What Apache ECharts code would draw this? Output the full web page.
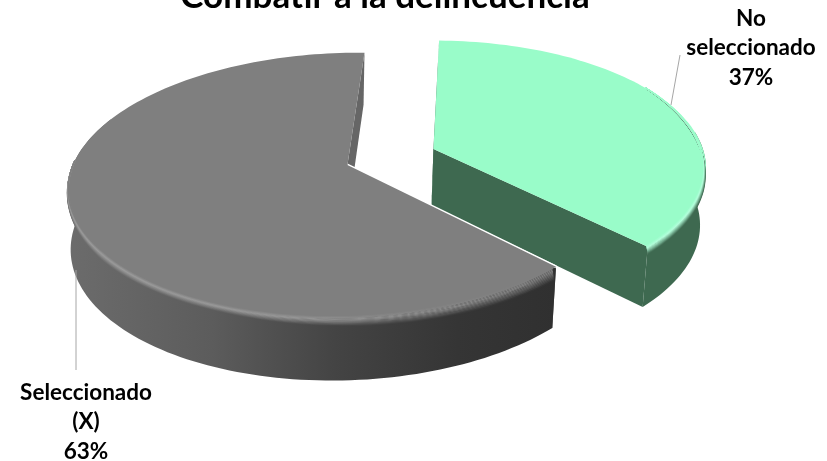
<!DOCTYPE html>
<html><head><meta charset="utf-8">
<style>html,body{margin:0;padding:0;background:#fff}#c{width:827px;height:461px}</style>
<script src="https://cdn.jsdelivr.net/npm/echarts@6/dist/echarts.min.js"></script>
</head><body><div id="c"></div>
<script>
const titleText = 'Combatir a la delincuencia';
const categories = ['No seleccionado', 'Seleccionado (X)'];
const labelLines = [['No', 'seleccionado'], ['Seleccionado', '(X)']];
const values = [37, 63];

// view of the tilted, exploded pie
const view = {vx: 433, vy: 157, R: 272, K: 127, H: 58, p: 0.15, q: 0.023, qx: 0.0145, qxAt: 300, startDeg: 1.4, explode: 0.169, cx: -0.155};
const looks = [
  {top: '#99fcc9', face: '#3e6950', glint: [[0, '#b4ffdc'], [1, '#b4ffdc']], side: [[0, '#3e6950'], [1, '#3e6950']], gx: [433, 707],
   rim: [58, 0.13, 0]},
  {top: '#7f7f7f', face: '#666666', glint: [[0, '#9c9c9c'], [0.5, '#979797'], [0.85, '#858585'], [1, '#7f7f7f']],
   side: [[0, '#6c6c6c'], [0.3, '#5c5c5c'], [0.55, '#444444'], [0.8, '#353535'], [1, '#303030']], gx: [65, 555],
   rim: [272, 0.09, 0.13]}
];
const labelPos = [[751, 48], [86, 422]];
const leaders = [[[680, 55], [671, 105]], [[76, 270], [76, 370]]];

const total = values.reduce((a, b) => a + b, 0);
const rad = d => d * Math.PI / 180;
function sliceAngles(i) {
  let a = view.startDeg;
  for (let k = 0; k < i; k++) a += values[k] / total * 360;
  return [a, a + values[i] / total * 360];
}
function project(wx, wy, z) {
  const s0 = 1 / (1 - view.p * wy);
  const s = 1 / (1 - view.p * wy + view.q * z);
  const x0 = view.vx + view.R * wx * s0;
  return [x0 - (x0 - view.qxAt) * view.qx * z, view.vy + view.K * wy * s + view.H * z * s];
}
const toRgb = h => [16, 8, 0].map(sh => (parseInt(h.slice(1), 16) >> sh) & 255);
const toHex = c => '#' + c.map(v => Math.round(v).toString(16).padStart(2, '0')).join('');
function hexMix(a, b, t) {
  const pa = toRgb(a), pb = toRgb(b);
  return toHex(pa.map((v, i) => v * (1 - t) + pb[i] * t));
}
function sample(stops, t) {
  for (let i = 1; i < stops.length; i++) {
    if (t <= stops[i][0]) {
      return hexMix(stops[i - 1][1], stops[i][1], (t - stops[i - 1][0]) / (stops[i][0] - stops[i - 1][0]));
    }
  }
  return stops[stops.length - 1][1];
}
function renderSlice(params, api) {
  const i = params.dataIndex;
  const look = looks[i];
  const [a0, a1] = sliceAngles(i);
  const mid = rad((a0 + a1) / 2);
  const ox = view.cx + Math.sin(mid) * view.explode;
  const oy = -Math.cos(mid) * view.explode;
  const P = (deg, r, z) => project(ox + r * Math.sin(rad(deg)), oy - r * Math.cos(rad(deg)), z);
  const arc = (from, to, r, z) => {
    const pts = [], n = Math.max(2, Math.ceil(Math.abs(to - from) / 1.5));
    for (let k = 0; k <= n; k++) pts.push(P(from + (to - from) * k / n, r, z));
    return pts;
  };
  const sideFill = {type: 'linear', x: look.gx[0], y: 0, x2: look.gx[1], y2: 0, global: true,
    colorStops: look.side.map(s => ({offset: s[0], color: s[1]}))};
  const kids = [];
  const apex = z => project(ox, oy, z);
  // cut faces
  [a0, a1].forEach(a => kids.push({type: 'polygon', shape: {points: [apex(0), P(a, 1, 0), P(a, 1, 1), apex(1)]},
    style: {fill: look.face}}));
  // outer wall, front part only
  const f0 = Math.max(a0, 82), f1 = Math.min(a1, 292);
  kids.push({type: 'polygon', shape: {points: arc(f0, f1, 1, 0).concat(arc(f1, f0, 1, 1))}, style: {fill: sideFill}});
  if (i === 1) {
    kids.push({type: 'polyline', shape: {points: [apex(0), P(a0, 1, 0)]}, style: {stroke: '#ffffff', lineWidth: 3, fill: null}});
  }
  // top
  kids.push({type: 'polygon', shape: {points: [apex(0)].concat(arc(a0, a1, 1, 0))}, style: {fill: look.top}});
  // rounded rim: outer layers first so each inner one sits on top; it narrows to nothing at its far end
  const n = 12;
  const b0 = Math.max(a0 + 0.3, i === 0 ? look.rim[0] : 0), b1 = Math.min(a1 - 0.3, i === 0 ? 999 : look.rim[0]);
  for (let k = n; k >= 0; k--) {
    const t = k / n;
    const pts = [];
    const steps = Math.ceil((b1 - b0) / 1.5);
    for (let j = 0; j <= steps; j++) {
      const a = b0 + (b1 - b0) * j / steps;
      const far = i === 0 ? (a - b0) / 40 : (b1 - a) / 40;
      const w = Math.min(1, far);
      const zmax = look.rim[1] + look.rim[2] * Math.max(0, (200 - a) / 65);
      pts.push(P(a, 1 - 0.012 * (1 - t) * w, t * zmax * w));
    }
    const stops = [];
    for (let u = 0; u <= 20; u++) {
      const g = u / 20;
      const gl = sample(look.glint, g), sd = sample(look.side, g);
      const c = t < 0.35 ? hexMix(look.top, gl, t / 0.35) : hexMix(gl, sd, Math.min(1, (t - 0.35) / 0.6));
      stops.push({offset: g, color: c});
    }
    kids.push({type: 'polyline', shape: {points: pts},
      style: {fill: null, lineWidth: 1.2, stroke: {type: 'linear', x: look.gx[0], y: 0, x2: look.gx[1], y2: 0, global: true, colorStops: stops}}});
  }
  // leader and label
  kids.push({type: 'polyline', shape: {points: leaders[i]}, style: {fill: null, stroke: '#a6a6a6', lineWidth: 1}});
  kids.push({type: 'text', style: {
    x: labelPos[i][0], y: labelPos[i][1], text: labelLines[i].concat([api.value(0) + '%']).join('\n'),
    align: 'center', verticalAlign: 'middle', fontFamily: 'Lato', fontWeight: 'bold', fontSize: 22.5, lineHeight: 29.5, fill: '#000000'}});
  return {type: 'group', children: kids};
}
const chart = echarts.init(document.getElementById('c'), null, {renderer: 'canvas'});
chart.setOption({
  animation: false,
  backgroundColor: '#ffffff',
  title: {text: titleText, left: 380, top: -26, textAlign: 'center',
    textStyle: {fontFamily: 'Lato', fontWeight: 'bold', fontSize: 35, color: '#000000'}},
  series: [{type: 'custom', coordinateSystem: 'none', renderItem: renderSlice, silent: true,
    data: values.map((v, i) => ({name: categories[i], value: [v]}))}]
});
</script></body></html>
